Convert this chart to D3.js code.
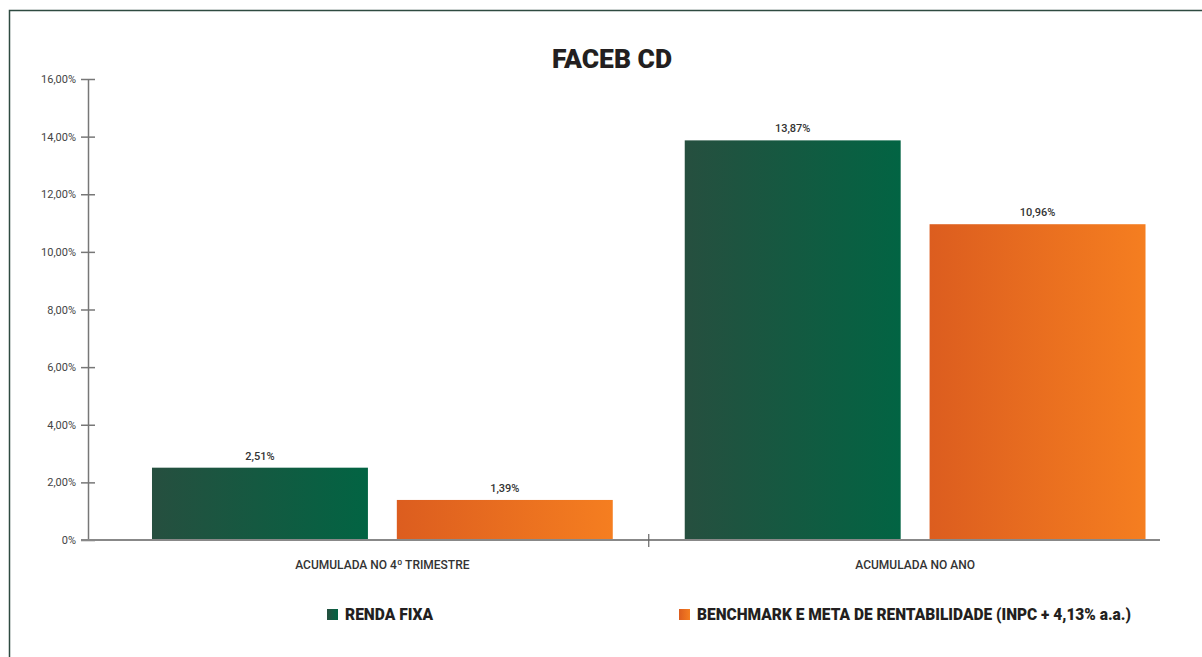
<!DOCTYPE html>
<html>
<head>
<meta charset="utf-8">
<script src="https://cdn.jsdelivr.net/npm/d3@7"></script>
<style>
  html, body { margin: 0; padding: 0; background: #fff; }
  svg { display: block; }
</style>
</head>
<body>
<div id="chart"></div>
<script>
const title = "FACEB CD";
const categories = ["ACUMULADA NO 4º TRIMESTRE", "ACUMULADA NO ANO"];
const seriesNames = ["RENDA FIXA", "BENCHMARK E META DE RENTABILIDADE (INPC + 4,13% a.a.)"];
const rendaFixa = [2.51, 13.87];
const benchmark = [1.39, 10.96];
const yTicks = [0, 2, 4, 6, 8, 10, 12, 14, 16];

const W = 1202, H = 657;
const svg = d3.select("#chart").append("svg").attr("width", W).attr("height", H);

const defs = svg.append("defs");
function grad(id, c0, c1) {
  const g = defs.append("linearGradient").attr("id", id).attr("x1", "0%").attr("x2", "100%").attr("y1", "0%").attr("y2", "0%");
  g.append("stop").attr("offset", "0%").attr("stop-color", c0);
  g.append("stop").attr("offset", "100%").attr("stop-color", c1);
}
grad("gGreen", "#264f3f", "#026443");
grad("gOrange", "#dc5d1f", "#f57e20");
const fills = ["url(#gGreen)", "url(#gOrange)"];

// frame border
svg.append("path").attr("d", `M9.5,${H} V10.5 H${W}`).attr("fill", "none").attr("stroke", "#2e4a40").attr("stroke-width", 1.5);

const fontMain = "Roboto, 'DejaVu Sans', sans-serif";

// title
svg.append("text").attr("x", 612).attr("y", 68).attr("text-anchor", "middle")
  .attr("font-family", fontMain).attr("font-weight", 900).attr("font-size", 26)
  .attr("textLength", 120).attr("lengthAdjust", "spacingAndGlyphs")
  .attr("fill", "#231f20").text(title);

const y = d3.scaleLinear().domain([0, 16]).range([540, 79]);
const x0 = d3.scaleBand().domain(categories).range([116, 1181.5]).padding(0);
const x1 = d3.scaleBand().domain([0, 1]).range([0, x0.bandwidth()]).paddingInner(0.118).paddingOuter(0.147);

// y axis
const yAxis = d3.axisLeft(y).tickValues(yTicks).tickSizeInner(7).tickSizeOuter(0)
  .tickFormat(d => d === 0 ? "0%" : d3.format(".2f")(d).replace(".", ",") + "%");
const gy = svg.append("g").attr("transform", "translate(88,0)").call(yAxis);
gy.select(".domain").attr("stroke", "#777").attr("stroke-width", 1.5);
gy.selectAll(".tick line").attr("stroke", "#777").attr("stroke-width", 1.5).attr("x2", 7).attr("x1", -7);
gy.selectAll(".tick text").attr("x", -12).attr("font-family", fontMain).attr("font-size", 11).attr("fill", "#444");

// bars
const data = categories.map((c, i) => ({ cat: c, vals: [rendaFixa[i], benchmark[i]] }));
const groups = svg.append("g").selectAll("g").data(data).join("g")
  .attr("transform", d => `translate(${x0(d.cat)},0)`);
groups.selectAll("rect").data(d => d.vals).join("rect")
  .attr("x", (d, i) => x1(i)).attr("width", x1.bandwidth())
  .attr("y", d => y(d)).attr("height", d => y(0) - y(d))
  .attr("fill", (d, i) => fills[i]);
groups.selectAll("text.val").data(d => d.vals).join("text").attr("class", "val")
  .attr("x", (d, i) => x1(i) + x1.bandwidth() / 2).attr("y", d => y(d) - 8)
  .attr("text-anchor", "middle").attr("font-family", fontMain).attr("font-weight", 500).attr("font-size", 11)
  .attr("fill", "#333").text(d => d3.format(".2f")(d).replace(".", ",") + "%");

// x axis line
svg.append("line").attr("x1", 81).attr("x2", 1160).attr("y1", y(0)).attr("y2", y(0))
  .attr("stroke", "#888").attr("stroke-width", 2);
// group separator tick
svg.append("line").attr("x1", x0(categories[1])).attr("x2", x0(categories[1]))
  .attr("y1", y(0) - 6).attr("y2", y(0) + 7).attr("stroke", "#666").attr("stroke-width", 1.2);

// category labels
svg.append("g").selectAll("text").data(categories).join("text")
  .attr("x", d => x0(d) + x0.bandwidth() / 2).attr("y", 569).attr("text-anchor", "middle")
  .attr("font-family", fontMain).attr("font-weight", 500).attr("font-size", 12).attr("fill", "#333").text(d => d);

// legend
const legX = [327, 679];
const legLen = [88, 434];
const leg = svg.append("g").selectAll("g").data(seriesNames).join("g")
  .attr("transform", (d, i) => `translate(${legX[i]},609)`);
leg.append("rect").attr("width", 11).attr("height", 11).attr("fill", (d, i) => fills[i]);
leg.append("text").attr("x", 18).attr("y", 11).attr("font-family", fontMain).attr("font-weight", 900)
  .attr("font-size", 16).attr("textLength", (d, i) => legLen[i]).attr("lengthAdjust", "spacingAndGlyphs")
  .attr("fill", "#231f20").text(d => d);
</script>
</body>
</html>
